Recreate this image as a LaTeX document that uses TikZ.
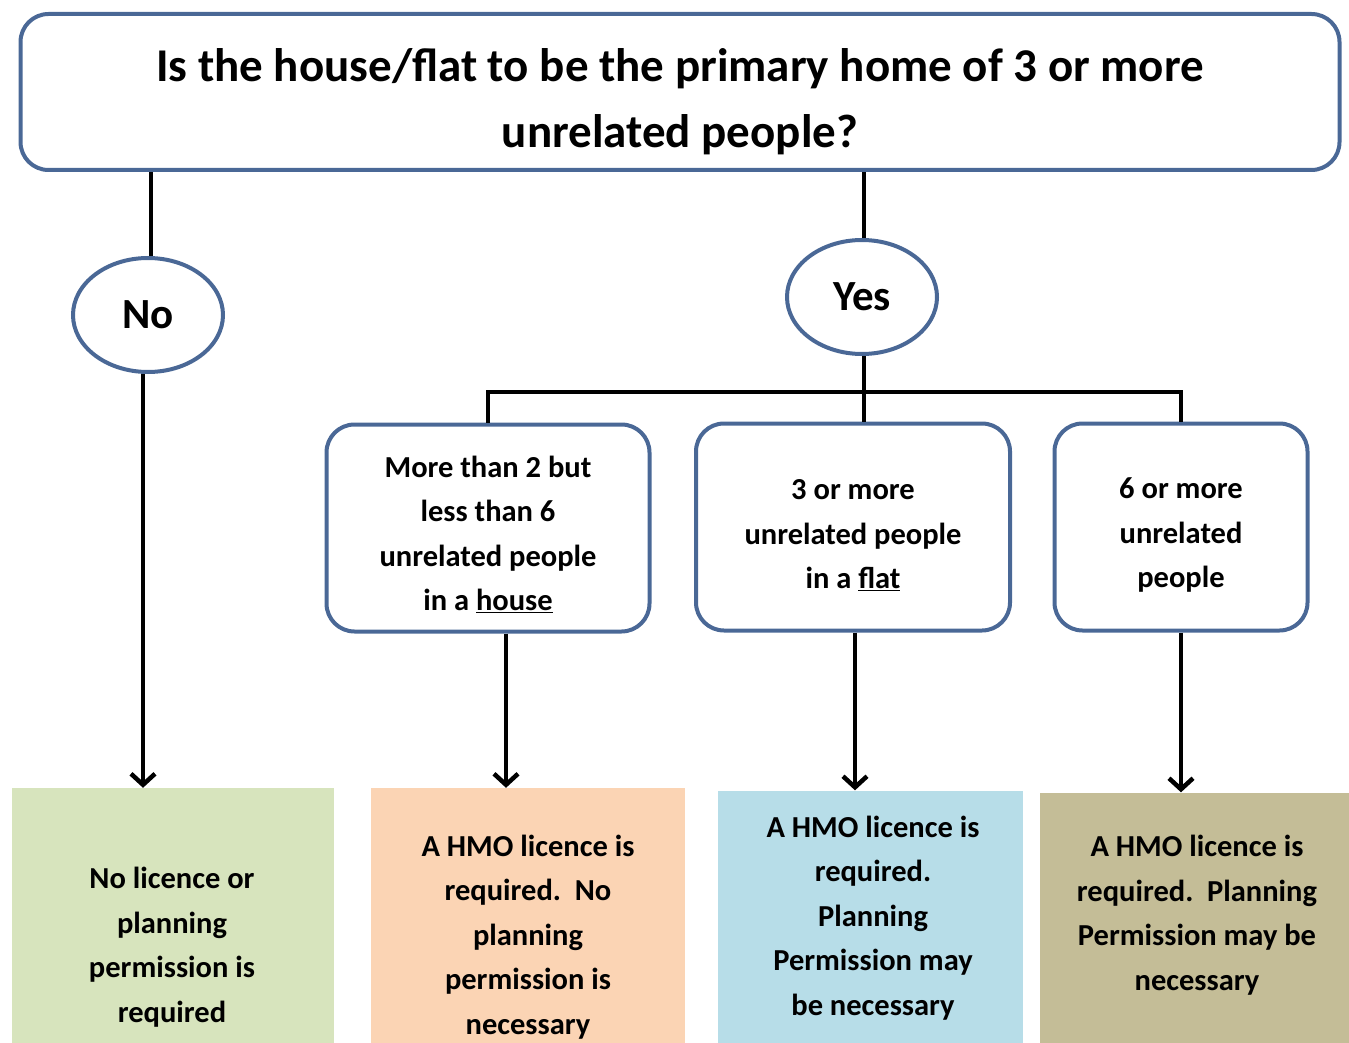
\documentclass[tikz,border=0pt]{standalone}
\usepackage{fontspec}
\setmainfont{Carlito}
\usetikzlibrary{arrows.meta,shapes.geometric}
\definecolor{frameblue}{RGB}{74,104,150}
\definecolor{nogreen}{RGB}{215,228,189}
\definecolor{houseorange}{RGB}{251,212,180}
\definecolor{flatblue}{RGB}{183,221,232}
\definecolor{bigtan}{RGB}{196,189,151}
\newcommand{\lowstrut}[1]{\rule{0pt}{#1}}
\tikzset{
  question/.style={draw=frameblue, line width=4pt, rounded corners=28pt, align=center,
    minimum width=1319pt, minimum height=156pt, font=\bfseries\fontsize{47}{66}\selectfont},
  answer/.style={ellipse, draw=frameblue, line width=4pt, minimum width=150pt,
    minimum height=114pt, font=\bfseries\fontsize{43}{48}\selectfont},
  case/.style={draw=frameblue, line width=4pt, rounded corners=28pt, align=center,
    minimum height=207pt, font=\bfseries\fontsize{30.5}{44.5}\selectfont},
  outcome/.style={inner sep=0pt, minimum height=253pt},
  verdict/.style={align=center, inner sep=0pt, font=\bfseries\fontsize{30.5}{44.5}\selectfont},
  link/.style={line width=4pt},
  arrow/.style={line width=3.5pt, -{Straight Barb[length=11pt,width=24pt,line width=4.5pt]}}
}
\begin{document}
\begin{tikzpicture}[x=1pt,y=-1pt]
      \useasboundingbox (0,0) rectangle (1349,1043);
      \draw
        (680,92) node[question] (q){\lowstrut{52pt}Is the house/flat to be the primary home of 3 or more\\unrelated people?}
        (148,315) node[answer] (no){No}
        (862,297) node[answer] (yes){Yes}
        (488,528) node[case, minimum width=323pt] (house){\lowstrut{34pt}More than 2 but\\less than 6\\unrelated people\\in a \underline{house}}
        (853,527) node[case, minimum width=314pt] (flat){\lowstrut{37pt}3 or more\\unrelated people\\in a \underline{flat}}
        (1181,527) node[case, minimum width=253pt] (six){\lowstrut{37pt}6 or more\\unrelated\\people};
      \path
        (173,916) node[outcome, fill=nogreen, minimum width=322pt, minimum height=256pt] (r0){}
        (528,916) node[outcome, fill=houseorange, minimum width=314pt, minimum height=256pt] (r1){}
        (870,917) node[outcome, fill=flatblue, minimum width=305pt] (r2){}
        (1194,918) node[outcome, fill=bigtan, minimum width=309pt, minimum height=251pt] (r3){};
      \path
        (172,947) node[verdict] (t0){No licence or\\planning\\permission is\\required}
        (528,937) node[verdict] (t1){A HMO licence is\\required.\ \ No\\planning\\permission is\\necessary}
        (873,918) node[verdict] (t2){A HMO licence is\\required.\\Planning\\Permission may\\be necessary}
        (1197,915) node[verdict] (t3){A HMO licence is\\required.\ \ Planning\\Permission may be\\necessary};
      \coordinate (split) at (864,392);
      \begin{scope}[link]
        \draw ([xshift=3pt]no.north) to ([xshift=3pt]no.north |- q.south);
        \draw ([xshift=2pt]yes.north) to ([xshift=2pt]yes.north |- q.south);
        \draw (split |- yes.south) to (split);
        \draw (house.north) |- (split) -| (six.north);
        \draw (split) to (split |- flat.north);
      \end{scope}
      \begin{scope}[arrow]
        \draw ([xshift=-5pt]no.south) to ([xshift=-5pt]no.south |- r0.north);
        \draw ([xshift=18pt]house.south) to ([xshift=18pt]house.south |- r1.north);
        \draw ([xshift=2pt]flat.south) to ([xshift=2pt]flat.south |- r2.north);
        \draw (six.south) to (six.south |- r3.north);
      \end{scope}
    \end{tikzpicture}
\end{document}
